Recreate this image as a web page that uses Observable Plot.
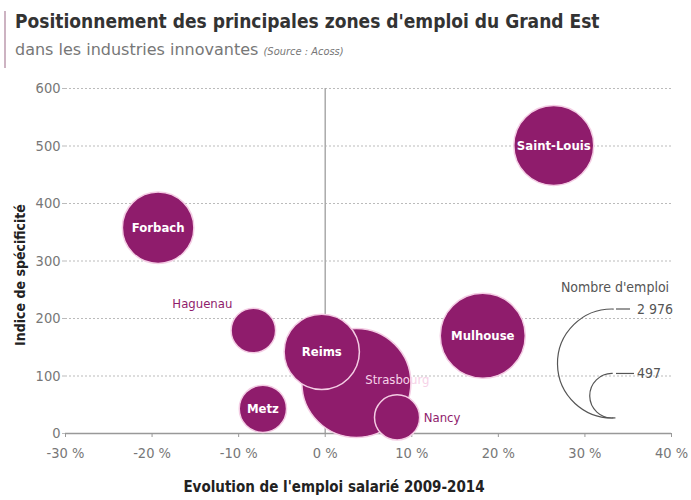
<!DOCTYPE html>
<html>
<head>
<meta charset="utf-8">
<script src="https://cdn.jsdelivr.net/npm/d3@7"></script>
<script src="https://cdn.jsdelivr.net/npm/@observablehq/plot@0.6"></script>
<style>
  body { margin: 0; background: #fff; font-family: "DejaVu Sans Condensed", "Liberation Sans Narrow", Roboto, sans-serif; font-stretch: condensed; }
  #wrap { position: relative; width: 691px; height: 500px; overflow: hidden; }
  #head { position: relative; height: 75px; }
  #bar { position: absolute; left: 4px; top: 11px; width: 2px; height: 57px; background: #cdb3c2; }
  #title { position: absolute; left: 15px; top: 10px; font-size: 19px; font-weight: bold; color: #333; white-space: nowrap; }
  #sub { position: absolute; left: 15px; top: 40px; font-family: "DejaVu Sans", sans-serif; font-stretch: normal; font-size: 16px; color: #777; white-space: nowrap; }
  #sub i { font-family: "DejaVu Sans Condensed", sans-serif; font-stretch: condensed; font-size: 11px; }
  svg { display: block; }
</style>
</head>
<body>
<div id="wrap">
  <div id="head">
    <div id="bar"></div>
    <div id="title">Positionnement des principales zones d'emploi du Grand Est</div>
    <div id="sub">dans les industries innovantes <i>(Source : Acoss)</i></div>
  </div>
  <div id="chart"></div>
</div>
<script>
const zones = ["Saint-Louis", "Forbach", "Haguenau", "Reims", "Mulhouse", "Strasbourg", "Metz", "Nancy"];
const evolution = [26.4, -19.3, -8.3, -0.4, 18.2, 3.6, -7.2, 8.3];
const indice = [501, 358, 179, 142, 170, 88, 43, 28];
const emplois = [1600, 1280, 497, 1420, 1810, 2976, 560, 510];
const xTicks = [-30, -20, -10, 0, 10, 20, 30, 40];
const yTicks = [0, 100, 200, 300, 400, 500, 600];
const legendValues = [2976, 497];
const xLabel = "Evolution de l'emploi salarié 2009-2014";
const yLabel = "Indice de spécificité";
const legendTitle = "Nombre d'emploi";

const data = zones.map((z, i) => ({zone: z, x: evolution[i], y: indice[i], n: emplois[i]}));
const inside = ["Saint-Louis", "Forbach", "Reims", "Mulhouse", "Metz"];
const purple = "#8f1c6c";
const font = '"DejaVu Sans Condensed", "Liberation Sans Narrow", Roboto, sans-serif';
const fr = d3.formatLocale({decimal: ",", thousands: " ", grouping: [3], currency: ["", " €"]});

const plot = Plot.plot({
  width: 691,
  height: 425,
  marginTop: 13,
  marginBottom: 67,
  marginLeft: 65,
  marginRight: 20,
  style: {fontFamily: font, fontStretch: "condensed", background: "#fff"},
  x: {domain: [-30, 40], ticks: xTicks, tickFormat: d => `${d} %`, label: null},
  y: {domain: [0, 600], ticks: yTicks, label: null},
  r: {type: "sqrt", domain: [0, 2976], range: [0, 54.5]},
  marks: [
    Plot.ruleY(yTicks.filter(d => d > 0), {stroke: "#bbb", strokeDasharray: "2,2", strokeWidth: 1}),
    Plot.ruleX([0], {y1: 0, y2: 600, stroke: "#aaa", strokeWidth: 1.5}),
    Plot.ruleY([0], {stroke: "#999", strokeWidth: 1.5}),
    Plot.axisY({ticks: yTicks, tickSize: 3, tickPadding: 2, fontSize: 14.5, color: "#777", stroke: "#bbb"}),
    Plot.axisX({ticks: xTicks, tickSize: 4, tickPadding: 10, fontSize: 14.5, color: "#777", stroke: "#999", tickFormat: d => `${d} %`}),
    Plot.dot(data, {x: "x", y: "y", r: "n", fill: purple, stroke: "#f4cde4", strokeWidth: 1.5}),
    Plot.text(data.filter(d => inside.includes(d.zone)), {x: "x", y: "y", text: "zone", fill: "white", fontSize: 13, fontWeight: "bold"}),
    Plot.text(data.filter(d => d.zone === "Haguenau"), {x: "x", y: "y", text: "zone", fill: purple, fontSize: 13, dx: -51, dy: -27}),
    Plot.text(data.filter(d => d.zone === "Strasbourg"), {x: "x", y: "y", text: "zone", fill: "#f6d2e8", fontSize: 13, dx: 41, dy: -3}),
    Plot.text(data.filter(d => d.zone === "Nancy"), {x: "x", y: "y", text: "zone", fill: purple, fontSize: 13, dx: 45, dy: 0})
  ]
});

const svg = d3.select(plot);
const textStyle = sel => sel.attr("font-family", font).attr("font-stretch", "condensed");

// Axis titles
svg.append("text").call(textStyle).attr("text-anchor", "middle")
  .attr("x", 334).attr("y", 412).attr("dy", "0.35em")
  .attr("font-size", 15).attr("font-weight", "bold").attr("fill", "#222").text(xLabel);
svg.append("text").call(textStyle).attr("text-anchor", "middle")
  .attr("transform", "translate(20,200) rotate(-90)").attr("dy", "0.35em")
  .attr("font-size", 14).attr("font-weight", "bold").attr("fill", "#222").text(yLabel);

// Size legend drawn with the plot's own r scale
const r = plot.scale("r");
const lx = 612, lBottom = 343;
const g = svg.append("g").attr("fill", "none").attr("stroke", "#555").attr("stroke-width", 1.2);
legendValues.forEach((v, i) => {
  const rad = r.apply(v);
  const cy = lBottom - rad;
  g.append("path")
    .attr("d", d3.arc()({innerRadius: rad, outerRadius: rad, startAngle: 0.01 * Math.PI, endAngle: -1.02 * Math.PI}))
    .attr("transform", `translate(${lx},${cy})`);
  g.append("line").attr("x1", lx + 4).attr("x2", lx + (i === 0 ? 18 : 22)).attr("y1", cy - rad).attr("y2", cy - rad);
  svg.append("text").call(textStyle).attr("text-anchor", "start")
    .attr("x", lx + 25).attr("y", cy - rad).attr("dy", "0.35em")
    .attr("font-size", 14).attr("fill", "#555")
    .text(fr.format(",")(v));
});
svg.append("text").call(textStyle).attr("text-anchor", "middle")
  .attr("x", 615).attr("y", 212).attr("dy", "0.35em")
  .attr("font-size", 14).attr("fill", "#555").text(legendTitle);

document.getElementById("chart").appendChild(plot);
</script>
</body>
</html>
